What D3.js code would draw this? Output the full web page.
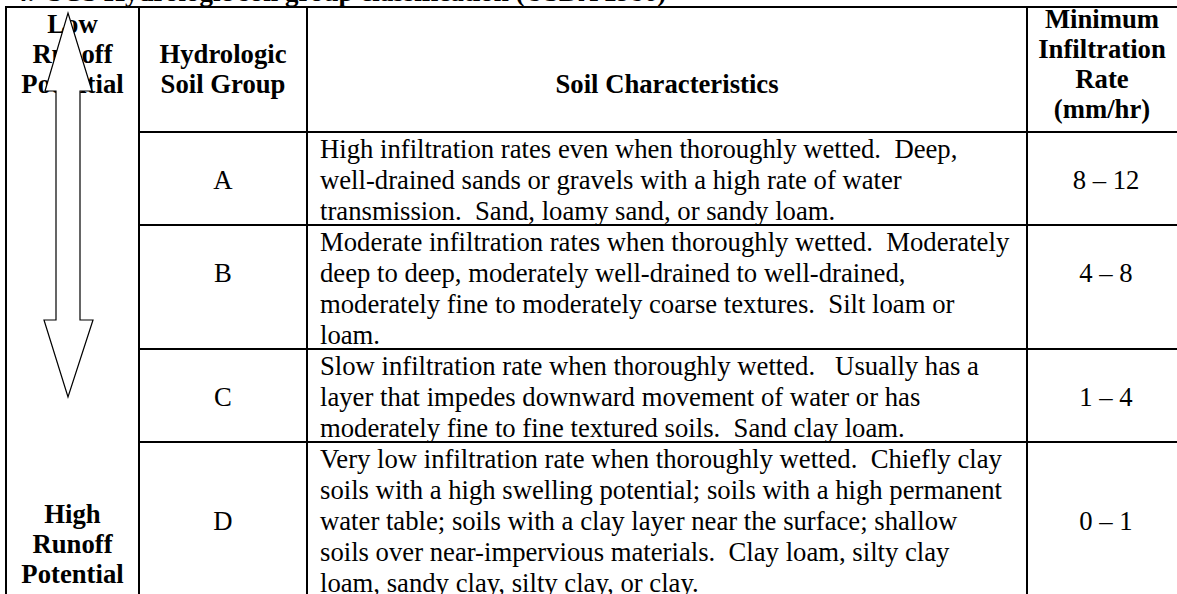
<!DOCTYPE html>
<html>
<head>
<meta charset="utf-8">
<script src="https://cdn.jsdelivr.net/npm/d3@7"></script>
<style>
  body { margin: 0; background: #fff; }
  svg text { font-family: "Liberation Serif", "Times New Roman", Times, "DejaVu Serif", serif; fill: #000; white-space: pre; }
  .bold { font-weight: bold; }
</style>
</head>
<body>
<div id="chart"></div>
<script>
// Table data
const titleText = "4.  SCS Hydrologic soil group classification (USDA 1986)";
const lowLabel = ["Low", "Runoff", "Potential"];
const highLabel = ["High", "Runoff", "Potential"];
const groupHeader = ["Hydrologic", "Soil Group"];
const charHeader = ["Soil Characteristics"];
const rateHeader = ["Minimum", "Infiltration", "Rate", "(mm/hr)"];

const groups = ["A", "B", "C", "D"];
const characteristics = [
    ["High infiltration rates even when thoroughly wetted.  Deep,",
     "well-drained sands or gravels with a high rate of water",
     "transmission.  Sand, loamy sand, or sandy loam."],
    ["Moderate infiltration rates when thoroughly wetted.  Moderately",
     "deep to deep, moderately well-drained to well-drained,",
     "moderately fine to moderately coarse textures.  Silt loam or",
     "loam."],
    ["Slow infiltration rate when thoroughly wetted.   Usually has a",
     "layer that impedes downward movement of water or has",
     "moderately fine to fine textured soils.  Sand clay loam."],
    ["Very low infiltration rate when thoroughly wetted.  Chiefly clay",
     "soils with a high swelling potential; soils with a high permanent",
     "water table; soils with a clay layer near the surface; shallow",
     "soils over near-impervious materials.  Clay loam, silty clay",
     "loam, sandy clay, silty clay, or clay."]
];
const rates = ["8 \u2013 12", "4 \u2013 8", "1 \u2013 4", "0 \u2013 1"];

// Layout
const width = 1177, height = 594;
const colKeys = ["runoff", "group", "chars", "rate"];
const colEdges = [6, 139, 307, 1027, 1181];
const tableTop = 7, headerBottom = 132, lineStep = 31;
const fontSize = 26.7;

const svg = d3.select("#chart").append("svg")
    .attr("width", width)
    .attr("height", height);

// column scales
const xLeft = d3.scaleOrdinal().domain(colKeys).range(colEdges.slice(0, 4));
const xMid = d3.scaleOrdinal().domain(colKeys)
    .range(colKeys.map((k, i) => (colEdges[i] + colEdges[i + 1]) / 2));

// rows by line count
const lineCounts = characteristics.map(d => d.length);
const totalLines = d3.sum(lineCounts);
const y = d3.scaleLinear().domain([0, totalLines])
    .range([headerBottom, headerBottom + lineStep * totalLines]);
const rowStart = d3.cumsum([0].concat(lineCounts));

// title (cut off at the top)
svg.append("text")
    .attr("class", "bold")
    .attr("x", 14)
    .attr("y", 1)
    .style("font-size", "27px")
    .text(titleText);

// text in cells
function addLines(lines, x, baseline, step, anchor, bold) {
    svg.append("g").selectAll("text")
        .data(lines)
        .join("text")
        .attr("class", bold ? "bold" : null)
        .attr("x", x)
        .attr("y", (d, i) => baseline + i * step)
        .attr("text-anchor", anchor)
        .style("font-size", fontSize + "px")
        .text(d => d);
}

addLines(lowLabel, xMid("runoff"), 33, 30, "middle", true);
addLines(groupHeader, xMid("group"), 63, 30, "middle", true);
addLines(charHeader, xMid("chars"), 93, 30, "middle", true);
addLines(rateHeader, xMid("rate") - 2, 28, 30, "middle", true);
addLines(highLabel, xMid("runoff"), 523, 30, "middle", true);

characteristics.forEach((lines, r) => {
    const top = y(rowStart[r]);
    addLines(lines, xLeft("chars") + 13, top + 26, lineStep, "start", false);
    const mid = y(rowStart[r] + Math.floor((lines.length - 1) / 2)) + 26;
    addLines([groups[r]], xMid("group"), mid, 0, "middle", false);
    addLines([rates[r]], xMid("rate") + 2, mid, 0, "middle", false);
});

// grid lines
const grid = svg.append("g").attr("stroke", "#000").attr("stroke-width", 2);
grid.append("line")
    .attr("x1", colEdges[0] - 1).attr("x2", width)
    .attr("y1", tableTop).attr("y2", tableTop);
grid.selectAll(".hline")
    .data(rowStart.slice(0, 4))
    .join("line")
    .attr("class", "hline")
    .attr("x1", xLeft("group")).attr("x2", width)
    .attr("y1", d => y(d)).attr("y2", d => y(d));
grid.selectAll(".vline")
    .data(colEdges.slice(0, 4))
    .join("line")
    .attr("class", "vline")
    .attr("x1", d => d).attr("x2", d => d)
    .attr("y1", tableTop - 1).attr("y2", height);

// double arrow in the first column
const cx = xMid("runoff") - 4.5;
const arrowPts = [
    [cx, 13], [cx + 24, 91], [cx + 12, 91], [cx + 12, 320],
    [cx + 25, 320], [cx, 397], [cx - 24, 320], [cx - 12, 320],
    [cx - 12, 91], [cx - 23, 91]
];
svg.append("path")
    .attr("d", d3.line()(arrowPts) + "Z")
    .attr("fill", "#fff")
    .attr("stroke", "#000")
    .attr("stroke-width", 1.2);
</script>
</body>
</html>
